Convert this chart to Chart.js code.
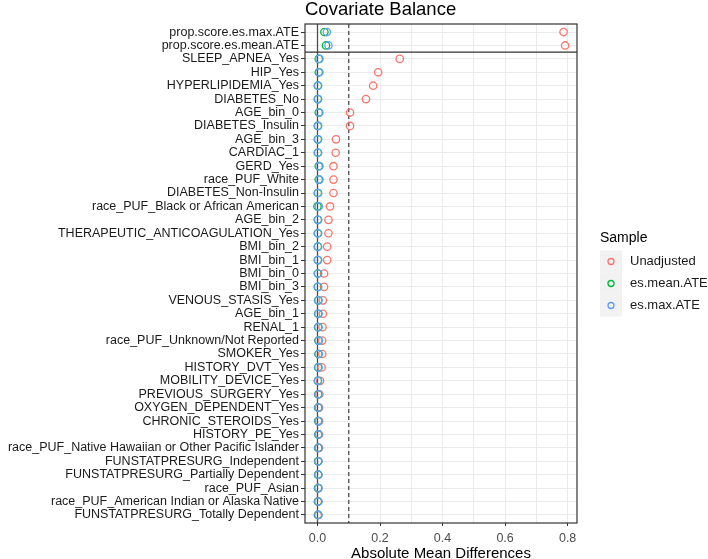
<!DOCTYPE html>
<html>
<head>
<meta charset="utf-8">
<script src="https://cdn.jsdelivr.net/npm/chart.js@4"></script>
<style>
html, body { margin: 0; padding: 0; background: #fff; }
#wrap { width: 708px; height: 559px; }
</style>
</head>
<body>
<div id="wrap"><canvas id="balance"></canvas></div>
<script>
// Data
const covariates = [
    'prop.score.es.max.ATE', 'prop.score.es.mean.ATE', 'SLEEP_APNEA_Yes', 'HIP_Yes',
    'HYPERLIPIDEMIA_Yes', 'DIABETES_No', 'AGE_bin_0', 'DIABETES_Insulin', 'AGE_bin_3',
    'CARDIAC_1', 'GERD_Yes', 'race_PUF_White', 'DIABETES_Non-Insulin',
    'race_PUF_Black or African American', 'AGE_bin_2', 'THERAPEUTIC_ANTICOAGULATION_Yes',
    'BMI_bin_2', 'BMI_bin_1', 'BMI_bin_0', 'BMI_bin_3', 'VENOUS_STASIS_Yes', 'AGE_bin_1',
    'RENAL_1', 'race_PUF_Unknown/Not Reported', 'SMOKER_Yes', 'HISTORY_DVT_Yes',
    'MOBILITY_DEVICE_Yes', 'PREVIOUS_SURGERY_Yes', 'OXYGEN_DEPENDENT_Yes',
    'CHRONIC_STEROIDS_Yes', 'HISTORY_PE_Yes',
    'race_PUF_Native Hawaiian or Other Pacific Islander', 'FUNSTATPRESURG_Independent',
    'FUNSTATPRESURG_Partially Dependent', 'race_PUF_Asian',
    'race_PUF_American Indian or Alaska Native', 'FUNSTATPRESURG_Totally Dependent'
];
const unadjusted = [
    0.787, 0.792, 0.263, 0.194, 0.178, 0.155, 0.104, 0.104, 0.059, 0.058, 0.051, 0.051, 0.051,
    0.040, 0.035, 0.035, 0.031, 0.031, 0.021, 0.021, 0.017, 0.017, 0.016, 0.015, 0.015, 0.013,
    0.008, 0.006, 0.005, 0.005, 0.005, 0.005, 0.002, 0.002, 0.002, 0.001, 0.001
];
const esMeanATE = [
    0.022, 0.027, 0.004, 0.004, 0.001, 0.001, 0.004, 0.001, 0.001, 0.001, 0.004, 0.004, 0.001,
    0.000, 0.001, 0.001, 0.001, 0.001, 0.001, 0.001, 0.002, 0.002, 0.002, 0.003, 0.003, 0.002,
    0.001, 0.002, 0.002, 0.002, 0.002, 0.002, 0.002, 0.002, 0.002, 0.002, 0.002
];
const esMaxATE = [
    0.030, 0.035, 0.006, 0.006, 0.002, 0.002, 0.006, 0.002, 0.002, 0.002, 0.006, 0.006, 0.002,
    0.004, 0.002, 0.002, 0.002, 0.002, 0.002, 0.002, 0.003, 0.003, 0.003, 0.004, 0.004, 0.003,
    0.002, 0.003, 0.003, 0.003, 0.003, 0.003, 0.003, 0.003, 0.003, 0.003, 0.003
];
const xTicks = [0, 0.1, 0.2, 0.3, 0.4, 0.5, 0.6, 0.7, 0.8];
const threshold = 0.1;

const toPoints = (vals) => vals.map((v, i) => ({ x: v, y: i }));
const font = '"Liberation Sans", Arial, sans-serif';

// Extra lines, border, title and legend
const panelPlugin = {
    id: 'panel',
    beforeDatasetsDraw(chart) {
        const { ctx, chartArea: a, scales: { x, y } } = chart;
        ctx.save();
        ctx.strokeStyle = '#4d4d4d';
        ctx.lineWidth = 1.3;
        const x0 = x.getPixelForValue(0);
        ctx.beginPath(); ctx.moveTo(x0, a.top); ctx.lineTo(x0, a.bottom); ctx.stroke();
        const xt = x.getPixelForValue(threshold);
        ctx.setLineDash([4, 3]);
        ctx.beginPath(); ctx.moveTo(xt, a.top); ctx.lineTo(xt, a.bottom); ctx.stroke();
        ctx.setLineDash([]);
        ctx.strokeStyle = '#333';
        ctx.lineWidth = 1.2;
        const ys = y.getPixelForValue(1.5);
        ctx.beginPath(); ctx.moveTo(a.left, ys); ctx.lineTo(a.right, ys); ctx.stroke();
        ctx.restore();
    },
    afterDraw(chart) {
        const { ctx, chartArea: a } = chart;
        ctx.save();
        ctx.strokeStyle = '#333';
        ctx.lineWidth = 1.2;
        ctx.strokeRect(a.left, a.top, a.right - a.left, a.bottom - a.top);

        ctx.fillStyle = '#000';
        ctx.font = '18.5px ' + font;
        ctx.textBaseline = 'middle';
        ctx.textAlign = 'left';
        ctx.fillText('Covariate Balance', a.left, 10);

        // Legend
        const sets = chart.data.datasets;
        const key = 22;
        const lx = a.right + 23;
        const total = 20 + key * sets.length;
        let ly = (a.top + a.bottom) / 2 - total / 2;
        ctx.font = '14px ' + font;
        ctx.fillText('Sample', lx, ly + 8);
        ly += 20;
        ctx.font = '13px ' + font;
        sets.forEach((s, i) => {
            const top = ly + i * key;
            ctx.fillStyle = '#f2f2f2';
            ctx.fillRect(lx, top, key, key);
            ctx.strokeStyle = s.borderColor;
            ctx.lineWidth = 1.3;
            ctx.beginPath();
            ctx.arc(lx + key / 2, top + key / 2, 3, 0, Math.PI * 2);
            ctx.stroke();
            ctx.fillStyle = '#1a1a1a';
            ctx.fillText(s.label, lx + key + 8, top + key / 2);
        });
        ctx.restore();
    }
};

new Chart(document.getElementById('balance'), {
    type: 'scatter',
    data: {
        datasets: [
            { label: 'Unadjusted', data: toPoints(unadjusted), borderColor: '#F8766D', order: 3 },
            { label: 'es.mean.ATE', data: toPoints(esMeanATE), borderColor: '#00BA38', order: 2 },
            { label: 'es.max.ATE', data: toPoints(esMaxATE), borderColor: '#619CFF', order: 1 }
        ]
    },
    options: {
        responsive: true,
        maintainAspectRatio: false,
        animation: false,
        elements: {
            point: { radius: 3.7, borderWidth: 1.3, backgroundColor: 'rgba(255,255,255,0)', hoverRadius: 3.7 }
        },
        layout: { padding: { top: 24, right: 131, left: 0, bottom: 0 } },
        plugins: {
            legend: { display: false },
            tooltip: { enabled: false }
        },
        scales: {
            x: {
                type: 'linear',
                min: -0.04,
                max: 0.83,
                afterBuildTicks: (scale) => { scale.ticks = xTicks.map((v) => ({ value: v })); },
                afterFit: (scale) => { scale.height = 36; },
                border: { display: false },
                grid: {
                    color: '#ebebeb',
                    tickLength: 3,
                    tickColor: (c) => (c.tick && Math.round(c.tick.value * 10) % 2 === 0 ? '#333' : 'rgba(0,0,0,0)')
                },
                ticks: {
                    autoSkip: false,
                    maxRotation: 0,
                    padding: 5,
                    color: '#4d4d4d',
                    font: { family: font, size: 12.5 },
                    callback: (v) => (Math.round(v * 10) % 2 === 0 ? v.toFixed(1) : '')
                },
                title: {
                    display: true,
                    text: 'Absolute Mean Differences',
                    color: '#000',
                    padding: { top: 0, bottom: -4 },
                    font: { family: font, size: 15 }
                }
            },
            y: {
                type: 'linear',
                reverse: true,
                min: -0.6,
                max: covariates.length - 0.4,
                afterBuildTicks: (scale) => { scale.ticks = covariates.map((c, i) => ({ value: i })); },
                afterFit: (scale) => { scale.width = 305; },
                border: { display: false },
                grid: { color: '#ebebeb', tickLength: 4, tickColor: '#333' },
                ticks: {
                    autoSkip: false,
                    padding: 2,
                    color: '#1a1a1a',
                    font: { family: font, size: 12.5 },
                    callback: (v) => covariates[v]
                }
            }
        }
    },
    plugins: [panelPlugin]
});
</script>
</body>
</html>
